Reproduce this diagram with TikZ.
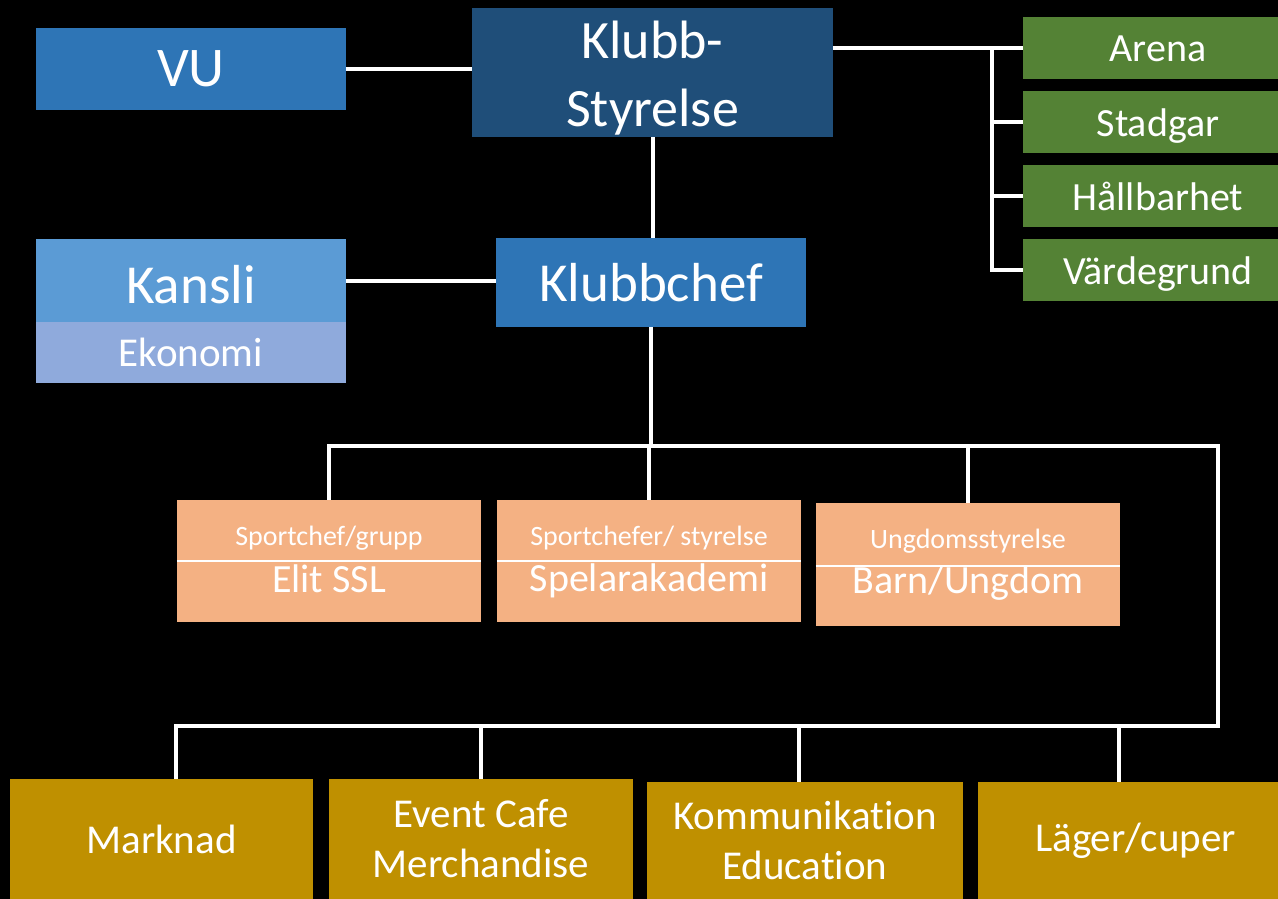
\documentclass[tikz,border=0pt]{standalone}
\usepackage{fontspec}
\setmainfont{Carlito}[Ligatures=CommonOff]
\usepackage{tikz}
\definecolor{darkblue}{HTML}{1F4E79}
\definecolor{midblue}{HTML}{2E75B6}
\definecolor{lightblue}{HTML}{5B9BD5}
\definecolor{paleblue}{HTML}{8FAADC}
\definecolor{leaf}{HTML}{548235}
\definecolor{peach}{HTML}{F4B183}
\definecolor{gold}{HTML}{BF9000}
\newcommand{\setfs}[2]{\fontsize{#1pt}{#2pt}\selectfont}

\begin{document}
\begin{tikzpicture}
[x=1pt,y=-1pt,
 every node/.style={rectangle,inner sep=0pt,text=white,align=center},
 wire/.style={draw=white,line width=4pt},
 divider/.style={draw=white,line width=2pt},
 greenbox/.style={fill=leaf,minimum width=270,minimum height=62},
 greentxt/.style={anchor=base,font=\setfs{40}{48}},
 peachbox/.style={fill=peach,minimum width=304,minimum height=122},
 goldbox/.style={fill=gold,minimum height=120,font=\setfs{41}{50}},
 toptxt/.style={anchor=base,font=\setfs{28}{34}},
 maintxt/.style={anchor=base,font=\setfs{40}{48}}]
\useasboundingbox (0,0) rectangle (1278,899);
\clip (0,0) rectangle (1278,899);
\fill[black] (0,0) rectangle (1278,899);
% top row
\node[fill=midblue,minimum width=310,minimum height=82,font=\setfs{56}{66}] (vu) at (191,69) {VU};
\node[fill=darkblue,minimum width=361,minimum height=129] (styrelse) at (652.5,72.5) {};
\node[font=\setfs{54}{68}] (styrelse-txt) at (652.5,78) {Klubb-\\Styrelse};
\node[greenbox] (arena) at (1158,48) {};
\node[greenbox] (stadgar) at (1158,122) {};
\node[greenbox] (hallbarhet) at (1158,196) {};
\node[greenbox] (vardegrund) at (1158,270) {};
\node[greentxt] (arena-txt) at (1158,62) {Arena};
\node[greentxt] (stadgar-txt) at (1158,136) {Stadgar};
\node[greentxt] (hallbarhet-txt) at (1158,210) {Hållbarhet};
\node[greentxt] (vardegrund-txt) at (1158,284) {Värdegrund};
% second row
\node[fill=lightblue,minimum width=310,minimum height=83] (kansli) at (191,280.5) {};
\node[anchor=base,font=\setfs{55}{66}] (kansli-txt) at (191,303) {Kansli};
\node[fill=paleblue,minimum width=310,minimum height=61,font=\setfs{41}{50}] (ekonomi) at (191,352.5) {Ekonomi};
\node[fill=midblue,minimum width=310,minimum height=89,font=\setfs{55}{66}] (klubbchef) at (651,282.5) {Klubbchef};
% sport
\node[peachbox] (elit) at (329,561) {};
\node[peachbox] (spelar) at (649,561) {};
\node[peachbox,minimum height=123] (barn) at (968,564.5) {};
\draw[divider] (elit.west) -- (elit.east);
\draw[divider] (spelar.west) -- (spelar.east);
\draw[divider] ([yshift=-1.5pt]barn.west) -- ([yshift=-1.5pt]barn.east);
\node[toptxt] (elit-top) at (329,545) {Sportchef/grupp};
\node[maintxt] (elit-main) at (329,592) {Elit SSL};
\node[toptxt] (spelar-top) at (649,545) {Sportchefer/ styrelse};
\node[maintxt] (spelar-main) at (649,591) {Spelarakademi};
\node[toptxt] (barn-top) at (968,548) {Ungdomsstyrelse};
\node[maintxt] (barn-main) at (968,593) {Barn/Ungdom};
% bottom row
\node[goldbox,minimum width=303] (marknad) at (161.5,839) {Marknad};
\node[goldbox,minimum width=304] (event) at (481,839) {Event Cafe\\Merchandise};
\node[goldbox,minimum width=316,minimum height=117] (kommunikation) at (805,840.5) {Kommunikation\\Education};
\node[goldbox,minimum width=315,minimum height=117] (lager) at (1135.5,840.5) {Läger/cuper};
% connectors
\draw[wire] (vu.east) -- (vu.east -| styrelse.west);
\draw[wire] (styrelse.south) -- (styrelse.south |- klubbchef.north);
\draw[wire] (kansli.east) -- (kansli.east -| klubbchef.west);
\draw[wire] (styrelse.east |- arena) -- (arena.west);
\coordinate (gbus) at (992,48);
\draw[wire] (gbus) |- (vardegrund.west);
\foreach \n in {stadgar,hallbarhet}
\draw[wire] (gbus |- \n) -- (\n.west);
\coordinate (busL) at (329,446);
\coordinate (busR) at (1218,446);
\coordinate (lowR) at (1218,726);
\coordinate (lowL) at (176,726);
\draw[wire] (klubbchef.south) -- (klubbchef.south |- busL);
\draw[wire,line join=miter] (elit.north) -- (elit.north |- busL) -- (busR) -- (lowR) -- (lowL) -- (lowL |- marknad.north);
\draw[wire] (spelar.north) -- (spelar.north |- busL);
\draw[wire] (barn.north) -- (barn.north |- busL);
\foreach \x/\n in {481/event,799/kommunikation,1119/lager}
\draw[wire] (\x,726) -- (\x,726 |- \n.north);
\end{tikzpicture}
\end{document}
